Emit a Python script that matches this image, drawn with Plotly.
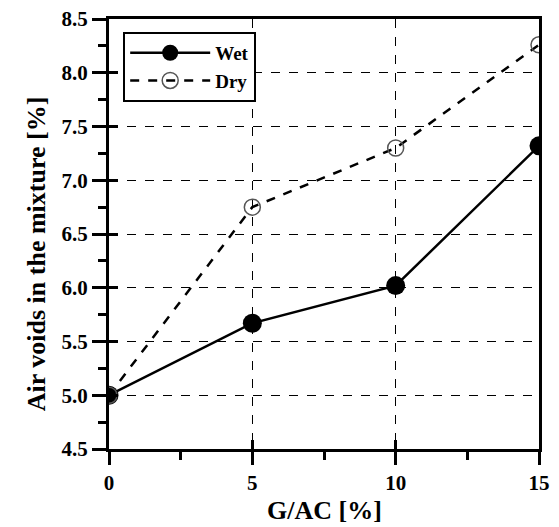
import plotly.graph_objects as go

gac = [0, 5, 10, 15]
wet = [5.0, 5.67, 6.02, 7.32]
dry = [5.0, 6.75, 7.30, 8.26]
x_ticks = [0, 5, 10, 15]
y_ticks = [4.5, 5.0, 5.5, 6.0, 6.5, 7.0, 7.5, 8.0, 8.5]

FONT = "Liberation Serif"

fig = go.Figure()
fig.add_trace(go.Scatter(
    x=gac, y=wet, name="<b>Wet</b>", mode="lines+markers",
    line=dict(color="black", width=2.5),
    marker=dict(symbol="circle", size=19, color="black"),
))
fig.add_trace(go.Scatter(
    x=gac, y=dry, name="<b>Dry</b>", mode="lines+markers",
    line=dict(color="black", width=2.5, dash="dash"),
    marker=dict(symbol="circle-open", size=16, color="#555555", line=dict(width=1.5)),
))
# invisible trace to carry the overlay axes
fig.add_trace(go.Scatter(x=[0], y=[4.5], xaxis="x2", yaxis="y2", mode="markers",
                         marker=dict(opacity=0), showlegend=False, hoverinfo="skip"))

axis_common = dict(
    showline=True, linecolor="black", linewidth=3, mirror=True,
    ticks="outside", tickcolor="black", tickwidth=2.5,
    showgrid=True, gridcolor="black", gridwidth=1, griddash="dash",
    zeroline=False, automargin=False,
    tickfont=dict(family=FONT, size=21, color="black"),
)

fig.update_layout(
    width=559, height=527,
    margin=dict(l=109, r=20, t=19, b=78, autoexpand=False),
    paper_bgcolor="white", plot_bgcolor="white",
    font=dict(family=FONT, color="black"),
    xaxis=dict(
        range=[0, 15], tickvals=x_ticks, ticktext=[f"<b>{v}</b>" for v in x_ticks], ticklen=13,
        minor=dict(tickvals=[2.5, 7.5, 12.5], ticks="outside", ticklen=8,
                   tickwidth=2.5, tickcolor="black", showgrid=False),
        **axis_common,
    ),
    yaxis=dict(
        range=[4.5, 8.5], tickvals=y_ticks,
        ticktext=[f"<b>{v:.1f}</b>" for v in y_ticks],
        ticklen=14,
        minor=dict(tickvals=[4.75, 5.25, 5.75, 6.25, 6.75, 7.25, 7.75, 8.25], ticks="outside",
                   ticklen=8, tickwidth=2.5, tickcolor="black", showgrid=False),
        **axis_common,
    ),
    xaxis2=dict(overlaying="x", range=[0, 15], tickvals=x_ticks, ticks="inside",
                ticklen=9, tickwidth=2.5, tickcolor="black", showticklabels=False,
                showgrid=False, zeroline=False, showline=False, side="bottom", automargin=False),
    yaxis2=dict(overlaying="y", range=[4.5, 8.5], tickvals=y_ticks,
                ticks="inside", ticklen=9, tickwidth=2.5, tickcolor="black", showticklabels=False,
                showgrid=False, zeroline=False, showline=False, side="left", automargin=False),
    legend=dict(
        x=0.033, y=0.97, xanchor="left", yanchor="top",
        bgcolor="white", bordercolor="black", borderwidth=2,
        font=dict(family=FONT, size=19, color="black"),
        itemwidth=80, tracegroupgap=2,
    ),
    annotations=[
        dict(text="<b>Air voids in the mixture [%]</b>", textangle=-90,
             xref="paper", yref="paper", x=-0.17, y=0.455, xanchor="center", yanchor="middle",
             showarrow=False, font=dict(family=FONT, size=26, color="black")),
        dict(text="<b>G/AC [%]</b>",
             xref="paper", yref="paper", x=0.5, y=-0.142, xanchor="center", yanchor="middle",
             showarrow=False, font=dict(family=FONT, size=26, color="black")),
    ],
    showlegend=True,
)

fig.write_html("out.html")
